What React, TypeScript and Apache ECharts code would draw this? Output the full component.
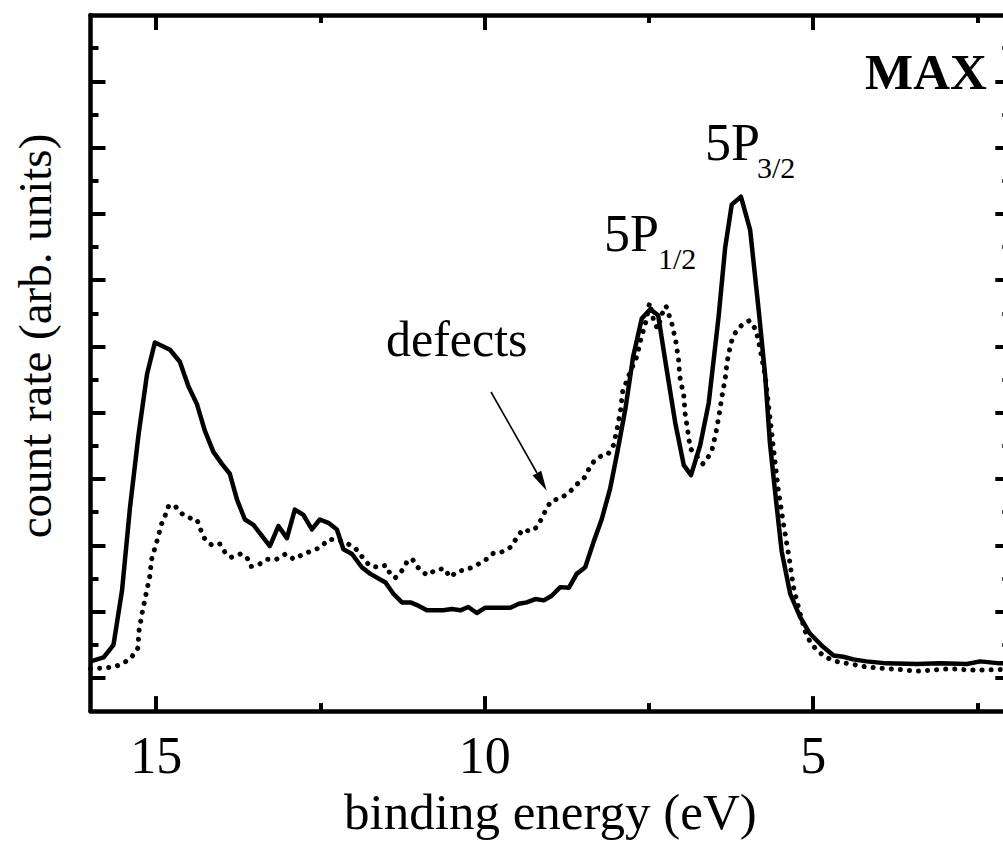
import React, { useEffect, useRef } from "react";
import * as echarts from "echarts";

// ---- data (binding energy in eV, count rate in arb. units) ----
const solidEnergy = [
  16.0, 15.8, 15.65, 15.52, 15.4, 15.27, 15.14, 15.02, 14.79, 14.64,
  14.51, 14.38, 14.26, 14.13, 14.0, 13.88, 13.77, 13.65, 13.52, 13.27,
  13.14, 13.01, 12.89, 12.76, 12.63, 12.51, 12.38, 12.25, 12.15, 12.02,
  11.87, 11.74, 11.51, 11.39, 11.26, 11.13, 11.01, 10.88, 10.63, 10.5,
  10.37, 10.25, 10.12, 9.99, 9.61, 9.48, 9.36, 9.23, 9.1, 8.98,
  8.85, 8.72, 8.6, 8.47, 8.34, 8.22, 8.09, 7.99, 7.86, 7.74,
  7.61, 7.48, 7.36, 7.23, 7.1, 6.97, 6.86, 6.72, 6.59, 6.44,
  6.34, 6.24, 6.1, 5.96, 5.83, 5.73, 5.66, 5.58, 5.48, 5.35,
  5.2, 5.05, 4.85, 4.69, 4.54, 4.39, 4.19, 3.88, 3.42, 3.07,
  2.66, 2.46, 2.16, 2.0,
];
const solidCounts = [
  0.75, 0.81, 1.0, 1.82, 3.06, 4.16, 5.08, 5.56, 5.45, 5.27,
  4.9, 4.63, 4.23, 3.91, 3.73, 3.58, 3.19, 2.89, 2.81, 2.49,
  2.79, 2.61, 3.04, 2.96, 2.74, 2.89, 2.84, 2.74, 2.44, 2.37,
  2.17, 2.07, 1.94, 1.77, 1.64, 1.64, 1.59, 1.52, 1.52, 1.54,
  1.52, 1.57, 1.48, 1.56, 1.56, 1.62, 1.64, 1.69, 1.67, 1.74,
  1.87, 1.86, 2.07, 2.17, 2.56, 2.89, 3.36, 3.86, 4.55, 5.35,
  5.92, 6.06, 5.97, 5.15, 4.35, 3.71, 3.56, 4.01, 4.65, 5.95,
  6.99, 7.64, 7.76, 7.26, 6.05, 5.05, 4.06, 3.31, 2.41, 1.77,
  1.42, 1.17, 0.97, 0.84, 0.82, 0.78, 0.75, 0.72, 0.71, 0.72,
  0.71, 0.75, 0.72, 0.72,
];
const defectEnergy = [
  16.0, 15.78, 15.63, 15.5, 15.37, 15.28, 15.26, 15.21, 15.16, 15.1,
  15.07, 14.99, 14.92, 14.86, 14.81, 14.72, 14.6, 14.48, 14.38, 14.28,
  14.15, 14.03, 13.95, 13.86, 13.72, 13.62, 13.56, 13.44, 13.31, 13.17,
  13.03, 12.9, 12.76, 12.62, 12.5, 12.38, 12.25, 12.12, 11.98, 11.86,
  11.75, 11.62, 11.5, 11.44, 11.36, 11.24, 11.17, 11.1, 11.01, 10.88,
  10.74, 10.61, 10.53, 10.41, 10.28, 10.15, 10.01, 9.87, 9.74, 9.61,
  9.52, 9.42, 9.3, 9.2, 9.13, 9.06, 8.99, 8.85, 8.72, 8.61,
  8.49, 8.42, 8.33, 8.21, 8.12, 8.04, 7.98, 7.93, 7.9, 7.8,
  7.68, 7.62, 7.54, 7.49, 7.43, 7.37, 7.28, 7.24, 7.15, 7.09,
  7.05, 7.03, 6.97, 6.95, 6.91, 6.87, 6.68, 6.61, 6.54, 6.48,
  6.43, 6.39, 6.34, 6.31, 6.25, 6.19, 6.09, 5.97, 5.87, 5.81,
  5.73, 5.67, 5.61, 5.53, 5.45, 5.36, 5.3, 5.2, 5.12, 5.05,
  4.95, 4.82, 4.69, 4.56, 4.41, 4.29, 4.14, 3.87, 3.59, 3.45,
  3.18, 2.91, 2.63, 2.36, 2.0,
];
const defectCounts = [
  0.64, 0.65, 0.67, 0.72, 0.82, 0.95, 1.22, 1.5, 1.74, 2.02,
  2.29, 2.56, 2.82, 2.96, 3.1, 3.1, 2.97, 2.91, 2.89, 2.62,
  2.5, 2.52, 2.39, 2.32, 2.37, 2.32, 2.18, 2.21, 2.29, 2.29,
  2.37, 2.29, 2.37, 2.42, 2.47, 2.59, 2.59, 2.54, 2.47, 2.32,
  2.19, 2.17, 2.2, 2.07, 2.01, 2.14, 2.28, 2.29, 2.16, 2.05,
  2.13, 2.15, 2.02, 2.11, 2.13, 2.19, 2.26, 2.38, 2.4, 2.47,
  2.6, 2.74, 2.71, 2.78, 2.91, 3.05, 3.17, 3.21, 3.29, 3.41,
  3.51, 3.64, 3.78, 3.86, 3.88, 4.01, 4.28, 4.55, 4.82, 5.08,
  5.36, 5.62, 5.9, 6.16, 5.9, 5.77, 6.05, 6.11, 5.84, 5.57,
  5.3, 5.04, 4.76, 4.49, 4.23, 3.96, 3.73, 3.81, 3.94, 4.2,
  4.48, 4.74, 5.01, 5.27, 5.56, 5.7, 5.82, 5.89, 5.75, 5.47,
  5.05, 4.53, 4.01, 3.33, 2.81, 2.27, 1.87, 1.47, 1.2, 1.05,
  0.92, 0.82, 0.76, 0.73, 0.71, 0.68, 0.66, 0.64, 0.62, 0.6,
  0.62, 0.64, 0.62, 0.62, 0.63,
];

const majorXTicks = [15, 10, 5];
const minorXTicks = [12.5, 7.5, 2.5];
const majorYTicks = [0.5, 1.5, 2.5, 3.5, 4.5, 5.5, 6.5, 7.5, 8.5, 9.5];
const minorYTicks = [1, 2, 3, 4, 5, 6, 7, 8, 9, 10];

const X_MIN = 2;
const X_MAX = 16;
const Y_MIN = 0;
const Y_MAX = 10.5;

const FONT = '"Liberation Serif", "Times New Roman", Times, serif';

export default function App() {
  const ref = useRef<HTMLDivElement>(null);

  useEffect(() => {
    if (!ref.current) return;
    const chart = echarts.init(ref.current, null, { renderer: "svg" });

    const lineStyleAxis = { color: "#000", width: 4.5 };
    const tickStyle = { color: "#000", width: 4 };

    const makeX = (position: string, ticks: number[], len: number, withLabel: boolean, withLine: boolean) => ({
      type: "value",
      position,
      min: X_MIN,
      max: X_MAX,
      inverse: true,
      offset: 0,
      axisLine: { show: withLine, onZero: false, lineStyle: lineStyleAxis },
      axisTick: { show: true, inside: true, length: len, customValues: ticks, lineStyle: tickStyle },
      axisLabel: withLabel
        ? { show: true, customValues: majorXTicks, margin: 18, color: "#000", fontSize: 52, fontFamily: FONT }
        : { show: false },
      splitLine: { show: false },
    });
    const makeY = (position: string, ticks: number[], len: number, withLine: boolean) => ({
      type: "value",
      position,
      min: Y_MIN,
      max: Y_MAX,
      offset: 0,
      axisLine: { show: withLine, onZero: false, lineStyle: lineStyleAxis },
      axisTick: { show: true, inside: true, length: len, customValues: ticks, lineStyle: tickStyle },
      axisLabel: { show: false },
      splitLine: { show: false },
    });

    const xAxes: any[] = [
      makeX("bottom", majorXTicks, 15, true, true),
      makeX("bottom", minorXTicks, 8, false, false),
      makeX("top", majorXTicks, 15, false, true),
      makeX("top", minorXTicks, 8, false, false),
    ];
    xAxes[0].name = "binding energy (eV)";
    xAxes[0].nameLocation = "middle";
    xAxes[0].nameGap = 66;
    xAxes[0].nameTextStyle = { color: "#000", fontSize: 51, fontFamily: FONT };

    const yAxes = [
      makeY("left", majorYTicks, 15, true),
      makeY("left", minorYTicks, 8, false),
      makeY("right", majorYTicks, 15, true),
      makeY("right", minorYTicks, 8, false),
    ];

    const zip = (xs: number[], ys: number[]) => xs.map((x, i) => [x, ys[i]]);

    const textBase = { fill: "#000", fontFamily: FONT };

    chart.setOption({
      animation: false,
      backgroundColor: "#fff",
      grid: { left: 90.5, right: 9.7, top: 15, bottom: 123.5, containLabel: false },
      xAxis: xAxes,
      yAxis: yAxes,
      series: [
        {
          name: "defects",
          type: "line",
          xAxisIndex: 0,
          yAxisIndex: 0,
          data: zip(defectEnergy, defectCounts),
          showSymbol: false,
          symbol: "none",
          lineStyle: { color: "#000", width: 5, type: [0.1, 9], cap: "round", join: "round" },
          z: 2,
        },
        {
          name: "MAX",
          type: "line",
          xAxisIndex: 0,
          yAxisIndex: 0,
          data: zip(solidEnergy, solidCounts),
          showSymbol: false,
          symbol: "none",
          lineStyle: { color: "#000", width: 4.5, join: "round" },
          z: 3,
        },
      ],
      graphic: [
        {
          type: "text",
          x: 34.5,
          y: 336,
          rotation: Math.PI / 2,
          style: { ...textBase, text: "count rate (arb. units)", fontSize: 47, align: "center", verticalAlign: "middle" },
        },
        {
          type: "text",
          x: 386,
          y: 339,
          style: { ...textBase, text: "defects", fontSize: 50, align: "left", verticalAlign: "middle" },
        },
        {
          type: "text",
          x: 604,
          y: 233.5,
          style: { ...textBase, text: "5P", fontSize: 52, align: "left", verticalAlign: "middle" },
        },
        {
          type: "text",
          x: 658,
          y: 258.5,
          style: { ...textBase, text: "1/2", fontSize: 30, align: "left", verticalAlign: "middle" },
        },
        {
          type: "text",
          x: 705,
          y: 142,
          style: { ...textBase, text: "5P", fontSize: 52, align: "left", verticalAlign: "middle" },
        },
        {
          type: "text",
          x: 757,
          y: 167,
          style: { ...textBase, text: "3/2", fontSize: 30, align: "left", verticalAlign: "middle" },
        },
        {
          type: "text",
          x: 865,
          y: 72,
          style: { ...textBase, text: "MAX", fontSize: 51, fontWeight: "bold", align: "left", verticalAlign: "middle" },
        },
        {
          type: "line",
          shape: { x1: 491, y1: 392, x2: 537, y2: 473 },
          style: { stroke: "#000", lineWidth: 1.6 },
        },
        {
          type: "polygon",
          shape: { points: [[546.7, 490.7], [532.6, 475.6], [541.2, 470.8]] },
          style: { fill: "#000" },
        },
      ],
    });

    return () => {
      chart.dispose();
    };
  }, []);

  return (
    <div
      style={{
        position: "fixed",
        left: 0,
        top: 0,
        width: 1003,
        height: 842,
        overflow: "hidden",
        background: "#fff",
      }}
    >
      <div ref={ref} style={{ width: 1020, height: 842 }} />
    </div>
  );
}
